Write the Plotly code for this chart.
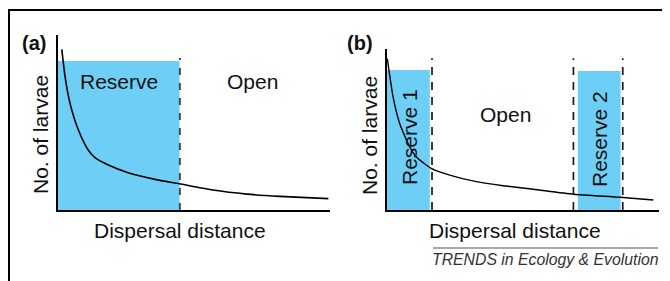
import plotly.graph_objects as go

# the page has an 8px body margin, so the figure starts at page pixel (8, 8)
OFF = 8
W, H = 670 - OFF, 281 - OFF

# ---- data (arbitrary units 0-100) ----
dist_a = [1.4, 2.6, 4.4, 7.5, 11.1, 13.6, 18.5, 25.8, 35.7, 44.6, 57.0, 69.4, 81.6, 99.4]
larvae_a = [91.8, 76.2, 61.1, 45.7, 34.3, 29.9, 25.7, 21.3, 17.5, 15.0, 11.4, 9.1, 7.8, 6.5]
reserve_a = [0.0, 44.7]
reserve_a_top = 85.1
bound_a = [44.8]
bound_a_top = 86.9

dist_b = [0.3, 2.4, 4.8, 8.5, 10.9, 16.4, 23.2, 33.0, 42.8, 53.9, 68.6, 85.7, 97.9]
larvae_b = [94.0, 70.4, 53.9, 39.3, 33.1, 25.9, 21.7, 17.6, 15.1, 12.9, 9.8, 7.9, 6.2]
reserves_b = [[0.0, 15.9], [70.2, 85.9]]
reserves_b_top = [87.0, 86.3]
bound_b = [16.7, 68.6, 86.7]
bound_b_top = 94.2

BLUE = "#6dcff6"
FONT = "Arial, Liberation Sans, sans-serif"


def px(x):
    return (x - OFF) / W


def py(y):
    return 1 - (y - OFF) / H


fig = go.Figure()
fig.add_trace(go.Scatter(x=dist_a, y=larvae_a, mode="lines", xaxis="x", yaxis="y",
                         line=dict(color="black", width=1.6, shape="spline", smoothing=0.6),
                         hoverinfo="skip", showlegend=False))
fig.add_trace(go.Scatter(x=dist_b, y=larvae_b, mode="lines", xaxis="x2", yaxis="y2",
                         line=dict(color="black", width=1.4, shape="spline", smoothing=0.6),
                         hoverinfo="skip", showlegend=False))

shapes = []
# reserve areas
shapes.append(dict(type="rect", xref="x", yref="y", x0=reserve_a[0], x1=reserve_a[1],
                   y0=0, y1=reserve_a_top, fillcolor=BLUE, line=dict(width=0), layer="below"))
for (r0, r1), top in zip(reserves_b, reserves_b_top):
    shapes.append(dict(type="rect", xref="x2", yref="y2", x0=r0, x1=r1, y0=0, y1=top,
                       fillcolor=BLUE, line=dict(width=0), layer="below"))
# boundaries
for b in bound_a:
    shapes.append(dict(type="line", xref="x", yref="y", x0=b, x1=b, y0=0, y1=bound_a_top,
                       line=dict(color="#4a4a4a", width=2, dash="7px,8px")))
for b in bound_b:
    shapes.append(dict(type="line", xref="x2", yref="y2", x0=b, x1=b, y0=0, y1=bound_b_top,
                       line=dict(color="#1a1a1a", width=1.7, dash="8px,7px")))
# frame
shapes.append(dict(type="line", xref="paper", yref="paper", x0=px(8), x1=px(670),
                   y0=py(10), y1=py(10), line=dict(color="black", width=2)))
shapes.append(dict(type="line", xref="paper", yref="paper", x0=px(9), x1=px(9),
                   y0=py(9), y1=py(281), line=dict(color="black", width=2)))
# credit rule
shapes.append(dict(type="line", xref="paper", yref="paper", x0=px(433), x1=px(658),
                   y0=py(248), y1=py(248), line=dict(color="#555555", width=1)))

ann = []


def text(t, x, y, size=21, angle=0, bold=False, italic=False, color="#111111"):
    s = t
    if bold:
        s = "<b>" + s + "</b>"
    if italic:
        s = "<i>" + s + "</i>"
    ann.append(dict(text=s, x=px(x), y=py(y), xref="paper", yref="paper",
                    xanchor="center", yanchor="middle", showarrow=False,
                    textangle=angle, font=dict(family=FONT, size=size, color=color)))


text("(a)", 34, 43, size=20, bold=True)
text("(b)", 360, 43, size=20, bold=True)
text("Reserve", 119, 82)
text("Open", 252, 82)
text("Open", 505, 115)
text("Reserve 1", 409, 137, angle=-90)
text("Reserve 2", 599, 139, angle=-90)
text("No. of larvae", 40, 135, angle=-90)
text("No. of larvae", 369, 135, angle=-90)
text("Dispersal distance", 180, 230)
text("Dispersal distance", 515, 230)
text("TRENDS in Ecology &amp; Evolution", 545, 259.5, size=15.8, italic=True, color="#333333")

ax = dict(showgrid=False, zeroline=False, showticklabels=False, ticks="",
          showline=True, linecolor="black", linewidth=1.7, range=[0, 100], fixedrange=True)

fig.update_layout(
    width=W, height=H, margin=dict(l=0, r=0, t=0, b=0),
    paper_bgcolor="white", plot_bgcolor="rgba(0,0,0,0)",
    xaxis=dict(ax, domain=[px(58), px(330)], anchor="y"),
    yaxis=dict(ax, domain=[py(210), py(35)], anchor="x"),
    xaxis2=dict(ax, domain=[px(386.5), px(659)], anchor="y2"),
    yaxis2=dict(ax, domain=[py(210), py(49)], anchor="x2"),
    shapes=shapes, annotations=ann, showlegend=False,
)

fig.write_html("out.html")
